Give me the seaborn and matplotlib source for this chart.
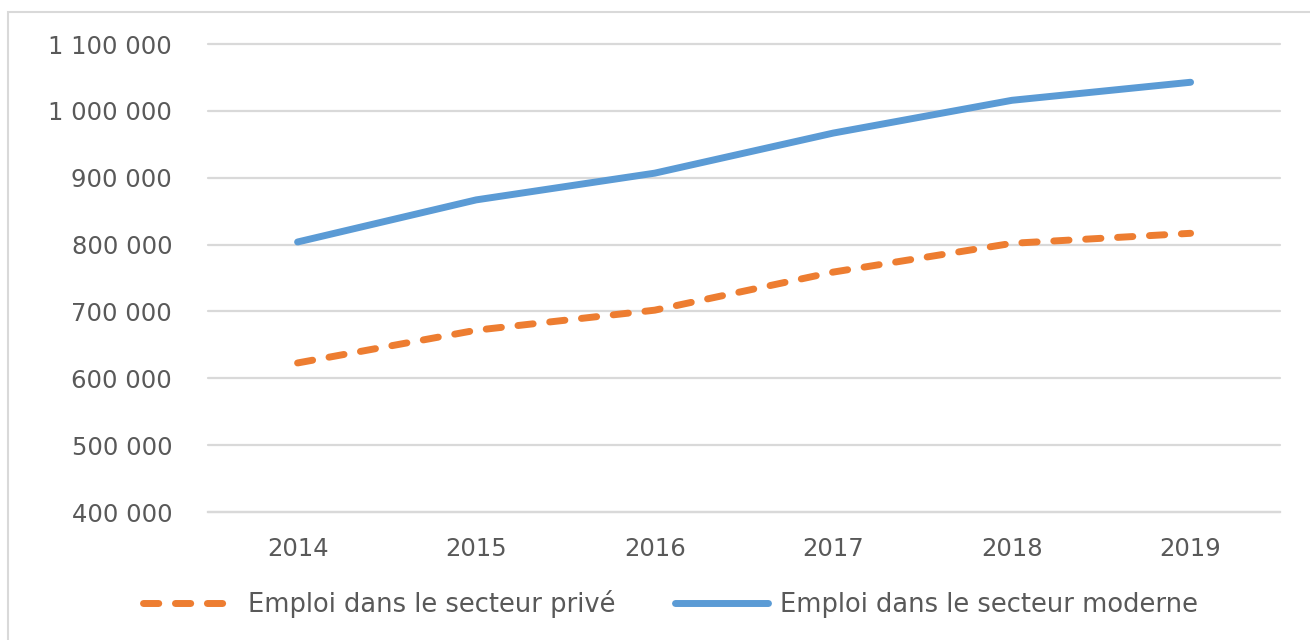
import pandas as pd
import seaborn as sns
import matplotlib.pyplot as plt
from matplotlib.patches import Rectangle
from matplotlib.ticker import FuncFormatter

years = ["2014", "2015", "2016", "2017", "2018", "2019"]
prive = [623000, 672000, 702000, 759000, 802000, 817000]
moderne = [804000, 867000, 907000, 967000, 1016000, 1043000]
lab_prive = "Emploi dans le secteur privé"
lab_moderne = "Emploi dans le secteur moderne"

df = pd.DataFrame({
    "annee": years * 2,
    "emploi": prive + moderne,
    "serie": [lab_prive] * 6 + [lab_moderne] * 6,
})

sns.set_style("white")
plt.rcParams["font.family"] = ["DejaVu Sans"]

fig = plt.figure(figsize=(13.1, 6.4), dpi=100)
ax = fig.add_axes([0.159, 0.2, 0.818, 0.731])

sns.lineplot(data=df, x="annee", y="emploi", hue="serie", style="serie",
             palette={lab_prive: "#ED7D31", lab_moderne: "#5B9BD5"},
             dashes={lab_prive: (2.2, 2.4), lab_moderne: ""},
             linewidth=5, ax=ax)
for ln in ax.get_lines():
    ln.set_solid_capstyle("round")
    ln.set_dash_capstyle("round")

ax.set_ylim(400000, 1100000)
ax.set_xlim(-0.5, 5.5)
ax.set_yticks(range(400000, 1100001, 100000))
ax.yaxis.set_major_formatter(FuncFormatter(lambda v, p: f"{int(v):,}".replace(",", " ")))
ax.grid(axis="y", color="#d9d9d9", linewidth=1.6)
for g in ax.yaxis.get_gridlines():
    g.set_clip_on(False)
ax.set_axisbelow(True)
for s in ["top", "right", "left"]:
    ax.spines[s].set_visible(False)
ax.spines["bottom"].set_color("#d9d9d9")
ax.spines["bottom"].set_linewidth(1.6)
ax.tick_params(axis="both", length=0, labelsize=17.5, labelcolor="#595959")
ax.tick_params(axis="y", pad=26)
ax.tick_params(axis="x", pad=18)
ax.set_xlabel("")
ax.set_ylabel("")

handles, labels = ax.get_legend_handles_labels()
ax.get_legend().remove()
fig.legend(handles, labels, loc="center", bbox_to_anchor=(0.512, 0.056),
           ncol=2, frameon=False, fontsize=18.5, labelcolor="#595959",
           handlelength=3.6, columnspacing=2.3, handletextpad=0.5)

fig.patches.append(Rectangle((8 / 1310, -0.01), 1.1, 1 - 12 / 640 + 0.01,
                             transform=fig.transFigure, fill=False,
                             edgecolor="#d9d9d9", linewidth=1.5))

fig.savefig("out.png", dpi=100)
